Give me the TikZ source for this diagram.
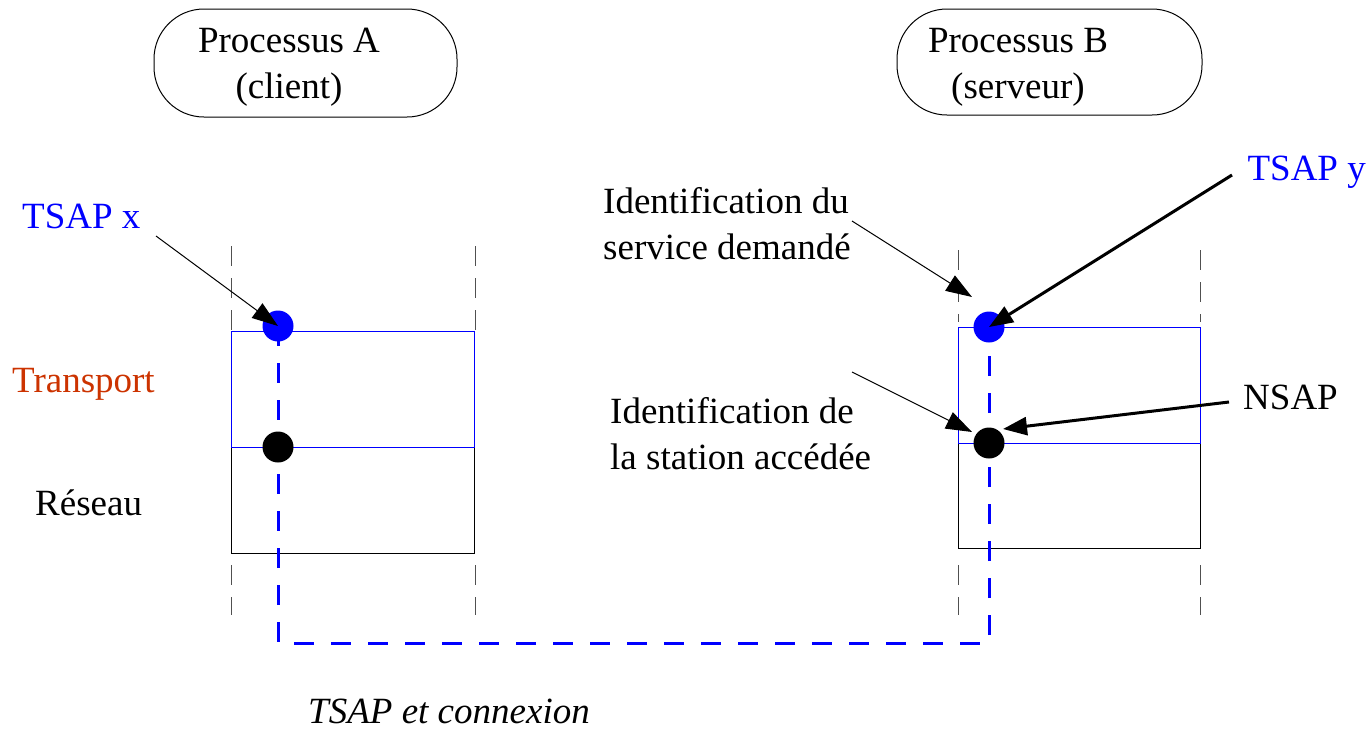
\documentclass[tikz,border=0pt]{standalone}
\usepackage{fontspec}
\setmainfont{Liberation Serif}
\usetikzlibrary{arrows.meta}
\definecolor{transp}{RGB}{204,51,0}
\definecolor{guide}{RGB}{80,80,80}
\tikzset{
  lbl/.style={inner sep=0pt, font=\fontsize{37}{46}\selectfont},
  proc/.style={draw, line width=1pt, rounded corners=50pt},
  guideline/.style={draw=guide, line width=1pt, dash pattern=on 20pt off 12pt},
  thinarrow/.style={line width=1pt, -{Triangle[length=26pt,width=18pt]}},
  thickarrow/.style={line width=3pt, -{Triangle[length=24pt,width=18pt]}},
  dot/.style={circle, inner sep=0pt, minimum size=31pt},
  conn/.style={draw=blue, line width=3pt, dash pattern=on 20pt off 17pt},
}
\begin{document}
\begin{tikzpicture}[x=1pt,y=-1pt]
\useasboundingbox (0,0) rectangle (1368,729);
% process boxes
\draw[proc] (154,9) rectangle (457,117);
\node[lbl, align=center] (pa) at (289,67) {Processus A\\(client)};
\draw[proc] (897,9) rectangle (1202,115);
\node[lbl, align=center] (pb) at (1018,67) {Processus B\\(serveur)};
% guide lines
\foreach \x in {231,475}{
  \draw[guideline] (\x,246) -- (\x,330);
  \draw[guideline] (\x,565) -- (\x,615);
}
\foreach \x in {958,1200}{
  \draw[guideline] (\x,250) -- (\x,322);
  \draw[guideline] (\x,565) -- (\x,615);
}
% left stack
\draw[line width=1pt] (231,447) -- (231,553) -- (474,553) -- (474,447);
\draw[blue, line width=1pt] (231,331) rectangle (474,447);
% right stack
\draw[line width=1pt] (958,443) -- (958,548) -- (1200,548) -- (1200,443);
\draw[blue, line width=1pt] (958,327) rectangle (1200,443);
% connection
\coordinate (c1) at (278,643);
\coordinate (c2) at (989,643);
\draw[conn] (278,326) -- (c1) -- (c2) -- (989,327);
% dots
\node[dot, fill=blue] (tx) at (278,326) {};
\node[dot, fill=black] (nx) at (278,447) {};
\node[dot, fill=blue] (ty) at (989,327) {};
\node[dot, fill=black] (ny) at (989,443) {};
% labels
\node[lbl, text=blue, anchor=west] (tsapx) at (22,216) {TSAP x};
\node[lbl, text=transp, anchor=west] (transport) at (12,384) {Transport};
\node[lbl, anchor=west] (reseau) at (35,503) {Réseau};
\node[lbl, text=blue, anchor=east] (tsapy) at (1366,172) {TSAP y};
\node[lbl, anchor=west] (nsap) at (1243,397) {NSAP};
\node[lbl, anchor=west, align=left] (idserv) at (603,224) {Identification du\\service demandé};
\node[lbl, anchor=west, align=left] (idstat) at (610,434) {Identification de\\la station accédée};
\node[lbl, font=\fontsize{37}{46}\selectfont\itshape, anchor=base] (cap) at (449,723) {TSAP et connexion};
% arrows
\coordinate (sx) at (156,236);
\draw[thinarrow] (sx) -- (tx.center);
\coordinate (sy) at (1232,175);
\draw[thickarrow] (sy) -- (ty.center);
\coordinate (sn) at (1229,402);
\coordinate (en) at (1003,429);
\draw[thickarrow] (sn) -- (en);
\coordinate (s1) at (852,221);
\coordinate (e1) at (972,297);
\draw[thinarrow] (s1) -- (e1);
\coordinate (s2) at (852,372);
\coordinate (e2) at (972,432);
\draw[thinarrow] (s2) -- (e2);
\end{tikzpicture}
\end{document}
